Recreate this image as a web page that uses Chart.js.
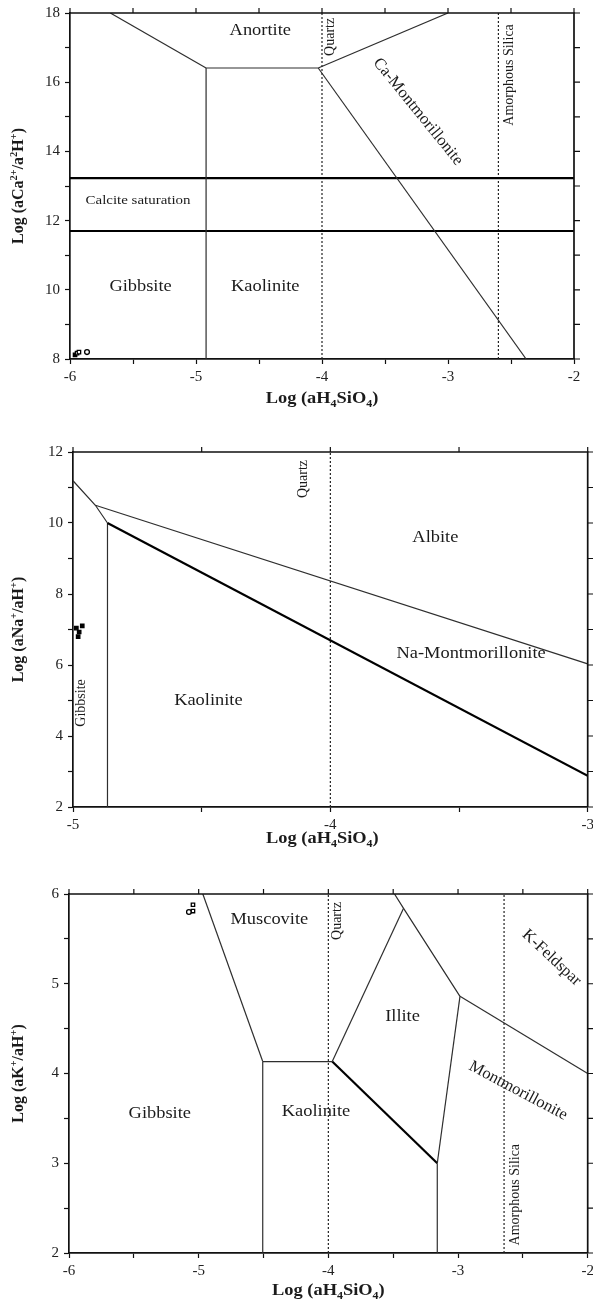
<!DOCTYPE html>
<html>
<head>
  <title>Stability diagrams</title>
  <style>
    body { margin: 0; background: #fff; }
    canvas { position: absolute; left: 0; }
  </style>
</head>
<body>
  <canvas id="caChart" width="593" height="410" style="top:0;width:593px;height:410px"></canvas>
  <canvas id="naChart" width="593" height="440" style="top:410px;width:593px;height:440px"></canvas>
  <canvas id="kChart" width="593" height="456" style="top:850px;width:593px;height:456px"></canvas>

  <script src="https://cdn.jsdelivr.net/npm/chart.js"></script>
  <script>
    // ---- Ca system (top diagram) ----
    const caXRange = [-6, -2];
    const caYRange = [8, 18];
    const caAnortiteGibbsite = [[-5.68, 18], [-4.92, 16.41]];
    const caAnortiteKaolinite = [[-4.92, 16.41], [-4.03, 16.41]];
    const caAnortiteMont = [[-4.03, 16.41], [-3.0, 18]];
    const caKaoliniteMont = [[-4.03, 16.41], [-2.38, 8]];
    const caGibbsiteKaolinite = [[-4.92, 16.41], [-4.92, 8]];
    const caCalciteHigh = [[-6, 13.23], [-2, 13.23]];
    const caCalciteLow = [[-6, 11.7], [-2, 11.7]];
    const caSilicaLines = [-4, -2.6];
    const caSamples = [[-5.96, 8.12], [-5.944, 8.17], [-5.929, 8.2], [-5.865, 8.2]];
    const caLabels = [
      ['Anortite', -4.49, 17.51, 0],
      ['Quartz', -3.94, 17.31, -90],
      ['Ca-Montmorillonite', -3.23, 15.17, 51],
      ['Amorphous Silica', -2.52, 16.21, -90],
      ['Calcite saturation', -5.46, 12.62, 0],
      ['Gibbsite', -5.44, 10.11, 0],
      ['Kaolinite', -4.45, 10.11, 0]
    ];

    // ---- Na system (middle diagram) ----
    const naXRange = [-5, -3];
    const naYRange = [2, 12];
    const naGibbsiteEdge = [[-5, 11.19], [-4.913, 10.5], [-4.866, 10.0]];
    const naAlbiteMont = [[-4.913, 10.5], [-3, 6.03]];
    const naKaoliniteMont = [[-4.866, 10.0], [-3, 2.88]];
    const naGibbsiteKaolinite = [[-4.866, 10.0], [-4.866, 2]];
    const naSilicaLines = [-4];
    const naSamples = [[-4.987, 7.04], [-4.964, 7.1], [-4.976, 6.93], [-4.98, 6.8]];
    const naLabels = [
      ['Quartz', -4.11, 11.24, -90],
      ['Albite', -3.592, 9.61, 0],
      ['Na-Montmorillonite', -3.453, 6.34, 0],
      ['Gibbsite', -4.97, 4.93, -90],
      ['Kaolinite', -4.474, 5.04, 0]
    ];

    // ---- K system (bottom diagram) ----
    const kXRange = [-6, -2];
    const kYRange = [2, 6];
    const kGibbsiteMuscovite = [[-4.968, 6], [-4.506, 4.133]];
    const kGibbsiteKaolinite = [[-4.506, 4.133], [-4.506, 2]];
    const kMuscoviteKaolinite = [[-4.506, 4.133], [-3.97, 4.133]];
    const kMuscoviteIllite = [[-3.97, 4.133], [-3.42, 5.84]];
    const kMuscoviteFeldspar = [[-3.49, 6], [-3.42, 5.84], [-2.985, 4.86]];
    const kFeldsparMont = [[-2.985, 4.86], [-2, 4.0]];
    const kIlliteMont = [[-2.985, 4.86], [-3.16, 3.0]];
    const kKaoliniteIllite = [[-3.97, 4.133], [-3.16, 3.0]];
    const kKaoliniteMont = [[-3.16, 3.0], [-3.16, 2]];
    const kSilicaLines = [-4, -2.645];
    const kSamples = [[-5.075, 5.8], [-5.044, 5.88], [-5.044, 5.81]];
    const kLabels = [
      ['Muscovite', -4.455, 5.73, 0],
      ['Quartz', -3.942, 5.7, -90],
      ['Illite', -3.428, 4.65, 0],
      ['K-Feldspar', -2.272, 5.3, 43],
      ['Montmorillonite', -2.532, 3.82, 28],
      ['Gibbsite', -5.3, 3.57, 0],
      ['Kaolinite', -4.095, 3.59, 0],
      ['Amorphous Silica', -2.57, 2.65, -90]
    ];

    const FONT = "'Liberation Serif', 'Times New Roman', serif";
    const INK = '#1b1b1b';

    const pts = arr => arr.map(([x, y]) => ({ x: x, y: y }));
    const thin = arr => ({ data: pts(arr), showLine: true, borderColor: '#2e2e2e', borderWidth: 1.2, pointRadius: 0 });
    const thick = arr => ({ data: pts(arr), showLine: true, borderColor: '#000', borderWidth: 2.2, pointRadius: 0 });
    const dotted = (x, yr) => ({ data: pts([[x, yr[0]], [x, yr[1]]]), showLine: true, borderColor: '#222', borderWidth: 1.2, borderDash: [2, 2], pointRadius: 0 });
    const samples = (arr, shapes, fills) => ({
      data: pts(arr), showLine: false, pointStyle: shapes, pointRadius: 2.4,
      pointBackgroundColor: fills, pointBorderColor: '#000', pointBorderWidth: 1.3
    });

    // draws text made of [string, 'sup'|'sub'|''] pieces, centred on (x,y)
    function richText(ctx, parts, x, y, size, bold, angle, sx) {
      const w = bold ? 'bold ' : '';
      const fontOf = k => w + (k ? size * 0.65 : size) + 'px ' + FONT;
      let total = 0;
      parts.forEach(([t, k]) => { ctx.font = fontOf(k); total += ctx.measureText(t).width; });
      ctx.save();
      ctx.translate(x, y);
      ctx.rotate(angle * Math.PI / 180);
      ctx.scale(sx, 1);
      ctx.textBaseline = 'alphabetic';
      ctx.textAlign = 'left';
      ctx.fillStyle = INK;
      let cx = -total / 2;
      const base = size * 0.34;
      parts.forEach(([t, k]) => {
        ctx.font = fontOf(k);
        let dy = base;
        if (k === 'sup') dy -= size * 0.42;
        if (k === 'sub') dy += size * 0.22;
        ctx.fillText(t, cx, dy);
        cx += ctx.measureText(t).width;
      });
      ctx.restore();
    }

    const paperPlugin = {
      id: 'paper',
      afterDraw(chart, args, opts) {
        const { ctx, chartArea: a, scales: { x, y } } = chart;
        ctx.save();
        ctx.strokeStyle = '#111';
        ctx.lineWidth = 1.7;
        ctx.beginPath();
        ctx.moveTo(a.left, a.top);
        ctx.lineTo(a.right, a.top);
        ctx.lineTo(a.right, a.bottom);
        ctx.stroke();
        ctx.lineWidth = 1.2;
        ctx.beginPath();
        x.ticks.forEach(t => {
          const px = x.getPixelForValue(t.value);
          ctx.moveTo(px, a.top); ctx.lineTo(px, a.top - 5);
        });
        y.ticks.forEach(t => {
          const py = y.getPixelForValue(t.value);
          ctx.moveTo(a.right, py); ctx.lineTo(a.right + 6, py);
        });
        ctx.stroke();
        ctx.restore();

        // region labels
        opts.labels.forEach(([text, lx, ly, ang]) => {
          const px = x.getPixelForValue(lx);
          const py = y.getPixelForValue(ly);
          let size = 16, sx = 1.15;
          if (ang === -90) { size = 14; sx = 1; }
          else if (ang !== 0) { size = 16.5; sx = 1; }
          if (text === 'Calcite saturation') size = 13;
          richText(ctx, [[text, '']], px, py, size, false, ang, sx);
        });

        // axis titles
        const midX = (a.left + a.right) / 2;
        const midY = (a.top + a.bottom) / 2;
        richText(ctx, opts.xTitle, midX + opts.xShift, a.bottom + opts.xGap, 16, true, 0, 1.15);
        richText(ctx, opts.yTitle, 18, midY, 16, true, -90, 1);
      }
    };

    function makeChart(id, c) {
      const canvas = document.getElementById(id);
      const H = canvas.height;
      const tickFont = { family: FONT, size: 15 };
      return new Chart(canvas.getContext('2d'), {
        type: 'scatter',
        data: { datasets: c.datasets },
        options: {
          responsive: false,
          animation: false,
          events: [],
          layout: { padding: { top: c.area.top, right: 593 - c.area.right, left: 0, bottom: 0 } },
          plugins: {
            legend: { display: false },
            tooltip: { enabled: false },
            paper: { labels: c.labels, xTitle: c.xTitle, yTitle: c.yTitle, xGap: c.xGap, xShift: c.xShift || 0 }
          },
          scales: {
            x: {
              type: 'linear', min: c.xRange[0], max: c.xRange[1],
              border: { display: true, color: '#111', width: 1.7 },
              grid: { drawOnChartArea: false, drawTicks: true, tickLength: 5, color: '#111', tickWidth: 1.2 },
              ticks: {
                stepSize: 0.5, color: '#222', font: tickFont, padding: 4, maxRotation: 0, autoSkip: false,
                callback: v => Number.isInteger(v) ? String(v) : ''
              },
              afterFit: s => { s.height = H - c.area.bottom; s.paddingLeft = 0; s.paddingRight = 0; }
            },
            y: {
              type: 'linear', min: c.yRange[0], max: c.yRange[1],
              border: { display: true, color: '#111', width: 1.7 },
              grid: { drawOnChartArea: false, drawTicks: true, tickLength: 5, color: '#111', tickWidth: 1.2 },
              ticks: {
                stepSize: c.yStep, color: '#222', font: tickFont, padding: 5, autoSkip: false,
                callback: v => (Math.abs(v % c.yLabelEvery) < 1e-9) ? String(v) : ''
              },
              afterFit: s => { s.width = c.area.left; s.paddingTop = 0; s.paddingBottom = 0; }
            }
          }
        },
        plugins: [paperPlugin]
      });
    }

    const xTitle = [['Log (aH', ''], ['4', 'sub'], ['SiO', ''], ['4', 'sub'], [')', '']];

    makeChart('caChart', {
      xRange: caXRange, yRange: caYRange, yStep: 1, yLabelEvery: 2,
      area: { left: 70, right: 574, top: 13, bottom: 359 },
      xGap: 39,
      datasets: [
        thin(caAnortiteGibbsite), thin(caAnortiteKaolinite), thin(caAnortiteMont),
        thin(caKaoliniteMont), thin(caGibbsiteKaolinite),
        thick(caCalciteHigh), thick(caCalciteLow),
        ...caSilicaLines.map(v => dotted(v, caYRange)),
        samples(caSamples, ['rect', 'rect', 'rect', 'circle'], ['#000', '#fff', '#fff', '#fff'])
      ],
      labels: caLabels,
      xTitle: xTitle,
      yTitle: [['Log (aCa', ''], ['2+', 'sup'], ['/a', ''], ['2', 'sup'], ['H', ''], ['+', 'sup'], [')', '']]
    });

    makeChart('naChart', {
      xRange: naXRange, yRange: naYRange, yStep: 1, yLabelEvery: 2,
      area: { left: 73, right: 588, top: 42, bottom: 397 },
      xGap: 31, xShift: -8,
      datasets: [
        thin(naGibbsiteEdge), thin(naAlbiteMont), thick(naKaoliniteMont), thin(naGibbsiteKaolinite),
        ...naSilicaLines.map(v => dotted(v, naYRange)),
        samples(naSamples, 'rect', '#000')
      ],
      labels: naLabels,
      xTitle: xTitle,
      yTitle: [['Log (aNa', ''], ['+', 'sup'], ['/aH', ''], ['+', 'sup'], [')', '']]
    });

    makeChart('kChart', {
      xRange: kXRange, yRange: kYRange, yStep: 0.5, yLabelEvery: 1,
      area: { left: 69, right: 591, top: 44, bottom: 403 },
      xGap: 37,
      datasets: [
        thin(kGibbsiteMuscovite), thin(kGibbsiteKaolinite), thin(kMuscoviteKaolinite),
        thin(kMuscoviteIllite), thin(kMuscoviteFeldspar), thin(kFeldsparMont),
        thin(kIlliteMont), thick(kKaoliniteIllite), thin(kKaoliniteMont),
        ...kSilicaLines.map(v => dotted(v, kYRange)),
        samples(kSamples, ['circle', 'rect', 'rect'], '#fff')
      ],
      labels: kLabels,
      xTitle: xTitle,
      yTitle: [['Log (aK', ''], ['+', 'sup'], ['/aH', ''], ['+', 'sup'], [')', '']]
    });
  </script>
</body>
</html>
